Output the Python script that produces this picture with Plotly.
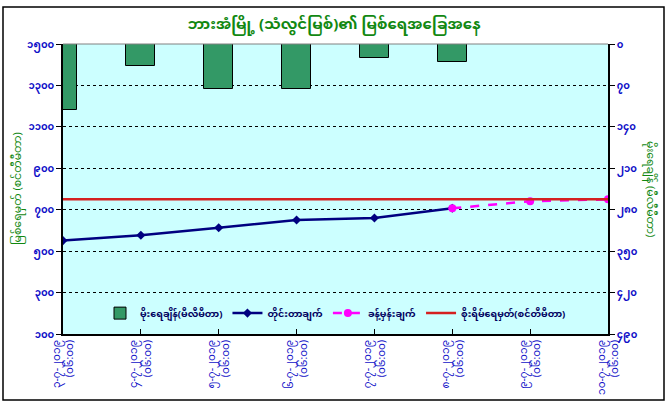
import plotly.graph_objects as go

# ── Data ─────────────────────────────────────────────
dates = ["၃-၇-၂၀၁၉", "၄-၇-၂၀၁၉", "၅-၇-၂၀၁၉", "၆-၇-၂၀၁၉",
         "၇-၇-၂၀၁၉", "၈-၇-၂၀၁၉", "၉-၇-၂၀၁၉", "၁၀-၇-၂၀၁၉"]
times = ["(၀၆:၀၀)"] * 8
rainfall = [111, 37, 76, 76, 24, 30]             # mm (right axis, reversed)
measured = [551, 577, 613, 650, 660, 707]        # cm
forecast = [None, None, None, None, None, 707, 741, 750]
danger = [750] * 8

left_vals = [100, 300, 500, 700, 900, 1100, 1300, 1500]
left_text = ["၁၀၀", "၃၀၀", "၅၀၀", "၇၀၀", "၉၀၀", "၁၁၀၀", "၁၃၀၀", "၁၅၀၀"]
right_vals = [0, 70, 140, 210, 280, 350, 420, 490]
right_text = ["၀", "၇၀", "၁၄၀", "၂၁၀", "၂၈၀", "၃၅၀", "၄၂၀", "၄၉၀"]

title = "ဘားအံမြို့ (သံလွင်မြစ်)၏ မြစ်ရေအခြေအနေ"
left_title = "မြစ်ရေမှတ် (စင်တီမီတာ)"
right_title = "မိုးရေချိန် (မီလီမီတာ)"
names = ["မိုးရေချိန်(မီလီမီတာ)", "တိုင်းတာချက်", "ခန့်မှန်းချက်", "စိုးရိမ်ရေမှတ်(စင်တီမီတာ)"]

FONT = "Noto Sans Myanmar, Padauk, Myanmar Text, Noto Sans, sans-serif"
BLUE = "#1010C8"
GREEN = "#118811"

x = list(range(len(dates)))
ticktext = [f"{d}<br>{t}" for d, t in zip(dates, times)]

fig = go.Figure()

fig.add_trace(go.Bar(x=x[:len(rainfall)], y=rainfall, yaxis="y2", width=0.37,
                     marker=dict(color="#339966", line=dict(color="black", width=1)),
                     name=f"<b>{names[0]}</b>"))
fig.add_trace(go.Scatter(x=x[:len(measured)], y=measured, mode="lines+markers",
                         line=dict(color="#000080", width=2.5),
                         marker=dict(symbol="diamond", size=7, color="#000080"),
                         name=f"<b>{names[1]}</b>"))
fig.add_trace(go.Scatter(x=x, y=forecast, mode="lines+markers",
                         line=dict(color="#FF00FF", width=2.5, dash="dash"),
                         marker=dict(symbol="circle", size=8, color="#FF00FF"),
                         name=f"<b>{names[2]}</b>"))
fig.add_trace(go.Scatter(x=x, y=danger, mode="lines",
                         line=dict(color="#D42020", width=2.5),
                         name=f"<b>{names[3]}</b>"))

fig.update_layout(
    width=668, height=404,
    margin=dict(l=63, r=60, t=44, b=70),
    paper_bgcolor="white", plot_bgcolor="#CCFFFF",
    font=dict(family=FONT, color=BLUE, size=10),
    title=dict(text=f"<b>{title}</b>", x=0.5, xanchor="center", y=0.942,
               yanchor="middle", font=dict(size=15, color=GREEN)),
    showlegend=True,
    legend=dict(orientation="h", x=0.5, xanchor="center", y=0.072, yanchor="middle",
                bgcolor="rgba(0,0,0,0)", font=dict(size=9.5, color="#000060"),
                traceorder="normal", itemwidth=30, tracegroupgap=0),
    bargap=0,
    xaxis=dict(range=[0, 7], tickvals=x, ticktext=ticktext, tickangle=-90,
               automargin=False,
               showgrid=False, showline=True, linecolor="black", linewidth=1.5,
               ticks="inside", ticklen=5, tickcolor="black",
               tickfont=dict(size=10.5, color=BLUE), zeroline=False),
    yaxis=dict(range=[100, 1500], tickvals=left_vals, automargin=False,
               ticktext=[f"<b>{t}</b>" for t in left_text],
               showgrid=True, gridcolor="black", griddash="dot", gridwidth=1,
               showline=True, linecolor="black", linewidth=1.5, mirror=False,
               ticks="outside", ticklen=5, tickcolor="black",
               tickfont=dict(size=10, color=BLUE), zeroline=False),
    yaxis2=dict(range=[490, 0], tickvals=right_vals, automargin=False,
                ticktext=[f"<b>{t}</b>" for t in right_text],
                overlaying="y", side="right", showgrid=False,
                showline=True, linecolor="black", linewidth=1.5,
                ticks="outside", ticklen=5, tickcolor="black",
                tickfont=dict(size=10, color=BLUE), zeroline=False),
)

# axis titles
fig.add_annotation(text=left_title, xref="paper", yref="paper", x=-45 / 545, y=0.5,
                   xanchor="center", yanchor="middle",
                   textangle=-90, showarrow=False, font=dict(size=11, color=GREEN))
fig.add_annotation(text=right_title, xref="paper", yref="paper", x=1 + 42 / 545, y=0.5,
                   xanchor="center", yanchor="middle",
                   textangle=90, showarrow=False, font=dict(size=11, color=GREEN))

# top edge of plot area and chart border
fig.add_shape(type="line", xref="paper", yref="paper", x0=0, x1=1, y0=1, y1=1,
              line=dict(color="#808080", width=1))
fig.add_shape(type="rect", xref="paper", yref="paper",
              x0=-60 / 545, x1=1 + 56 / 545, y0=-66 / 290, y1=1 + 37 / 290,
              line=dict(color="black", width=1.5))

fig.write_html("out.html", config={"displayModeBar": False},
               post_script="document.body.style.margin='0';")
